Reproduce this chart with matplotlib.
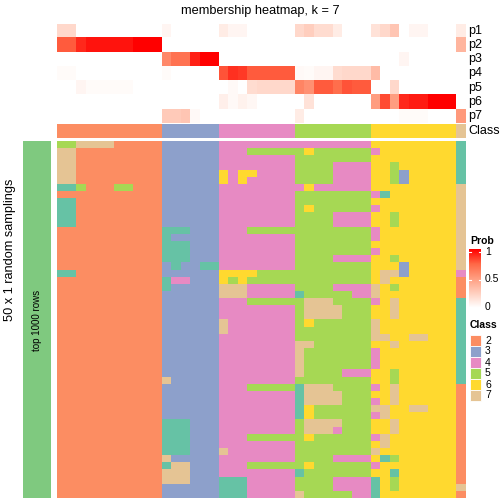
import numpy as np
import matplotlib

matplotlib.use("Agg")
import matplotlib.pyplot as plt  # noqa: E402
from matplotlib.colors import ListedColormap, LinearSegmentedColormap  # noqa: E402
from matplotlib.patches import Rectangle  # noqa: E402

plt.rcParams["font.family"] = ["Liberation Sans", "DejaVu Sans"]

W = H = 504

# class of each column (sample), left to right
column_class = "2222222222233333344444444555555556666666667"

# membership probabilities per column
p1 = [0.2, 0.2, 0, 0, 0, 0, 0, 0, 0, 0, 0, 0.05, 0, 0, 0, 0, 0, 0.1, 0.05, 0.05, 0, 0, 0, 0, 0,
      0.2, 0.25, 0.18, 0.18, 0.1, 0, 0, 0, 0.15, 0.2, 0.3, 0, 0.05, 0.05, 0, 0, 0, 0.1]
p2 = [0.78, 0.78, 0.9, 0.95, 0.95, 0.95, 0.95, 0.95, 1, 1, 1, 0, 0, 0, 0, 0, 0, 0, 0, 0, 0, 0, 0, 0, 0,
      0, 0, 0, 0, 0, 0, 0, 0, 0, 0, 0, 0, 0, 0, 0, 0, 0, 0.38]
p3 = [0, 0, 0, 0, 0, 0, 0, 0, 0, 0, 0, 0.6, 0.7, 0.7, 0.92, 1, 1, 0, 0, 0, 0, 0, 0, 0, 0,
      0, 0, 0, 0, 0, 0, 0, 0, 0, 0, 0, 0.05, 0, 0, 0, 0, 0, 0]
p4 = [0.02, 0.02, 0, 0, 0, 0, 0, 0, 0, 0, 0, 0.02, 0, 0, 0, 0, 0, 0.8, 0.88, 0.86, 0.78, 0.78, 0.78, 0.78, 0.78,
      0.03, 0.02, 0.05, 0.05, 0.18, 0.2, 0.2, 0.2, 0.35, 0, 0, 0, 0, 0, 0, 0, 0, 0]
p5 = [0, 0, 0.05, 0.02, 0.02, 0.02, 0.02, 0.02, 0, 0, 0, 0, 0, 0, 0, 0, 0, 0, 0.03, 0, 0.18, 0.2, 0.2, 0.2, 0.2,
      0.62, 0.56, 0.78, 0.78, 0.72, 0.8, 0.78, 0.78, 0, 0, 0.2, 0, 0, 0, 0, 0, 0, 0]
p6 = [0, 0, 0, 0, 0, 0, 0, 0, 0, 0, 0, 0, 0, 0, 0, 0, 0, 0.08, 0.03, 0.07, 0.04, 0, 0, 0, 0,
      0, 0.15, 0, 0, 0, 0, 0, 0, 0.5, 0.82, 0.5, 0.9, 0.93, 0.93, 1, 1, 1, 0]
p7 = [0, 0, 0, 0, 0, 0, 0, 0, 0, 0, 0, 0.27, 0.27, 0.3, 0.03, 0, 0, 0, 0, 0, 0, 0, 0, 0, 0,
      0.1, 0, 0, 0, 0, 0, 0, 0, 0, 0, 0, 0.02, 0.02, 0.02, 0, 0, 0, 0.52]
prob_labels = ["p1", "p2", "p3", "p4", "p5", "p6", "p7"]

# class found in each of the 50 random samplings (rows) for each sample (columns)
samplings = [
    "55777722222" "333333" "44444444" "44444444" "666666666" "1",
    "77222222222" "333333" "44455555" "56555555" "466666666" "1",
    "77222222222" "333333" "44444444" "55555555" "666666666" "1",
    "77222222222" "333333" "44444444" "55554444" "665666666" "1",
    "77222222222" "333333" "64664444" "55554444" "665366666" "1",
    "77222222222" "333333" "64644444" "55554444" "665366666" "1",
    "11522255222" "333333" "44444444" "46444444" "666666666" "7",
    "22222222222" "333333" "44444444" "55555555" "416666666" "7",
    "11222222222" "333333" "44444444" "55555555" "666666666" "7",
    "11222222222" "333333" "44444444" "56555555" "466666666" "7",
    "11222222222" "333333" "44444444" "55554444" "665666666" "7",
    "11222222222" "333333" "44444444" "55554444" "665666666" "7",
    "22222222222" "111333" "44455555" "55555555" "466666666" "7",
    "22222222222" "133333" "44444444" "55555555" "466666666" "7",
    "22222222222" "111333" "44444444" "55555555" "666666666" "7",
    "22222222222" "111333" "44444444" "55555555" "466666666" "7",
    "22222222222" "111333" "44444444" "55554444" "665666666" "7",
    "22222222222" "313311" "44444444" "55555555" "666366666" "7",
    "11222222222" "333333" "66665555" "55555555" "677366666" "4",
    "22222222222" "144333" "65655555" "55555555" "676666666" "2",
    "22222222222" "133333" "77744444" "55554444" "765666666" "2",
    "22222222222" "333333" "77744444" "15555544" "766666666" "2",
    "22222222222" "333333" "44455555" "57775555" "467666666" "1",
    "22222222222" "333333" "44444444" "57777555" "667666666" "1",
    "22222222222" "333333" "44444444" "57777555" "667666666" "1",
    "22222222222" "333333" "74444444" "56555555" "766666666" "1",
    "22222222222" "333333" "74444444" "55555555" "766666666" "1",
    "22222222222" "333333" "44444444" "55555555" "776677666" "1",
    "22222222222" "333333" "44444444" "77555555" "667666666" "1",
    "22222222222" "333333" "44444444" "75555555" "466666666" "1",
    "22222222222" "333333" "44444444" "75555555" "466666666" "1",
    "22222222222" "333333" "44444444" "75555555" "466666666" "1",
    "22222222222" "333333" "44444444" "75555444" "665666666" "1",
    "22222222222" "733333" "44444444" "55555555" "665666666" "1",
    "22222222222" "333333" "44455555" "17775555" "467666666" "2",
    "22222222222" "333333" "44444444" "17777555" "667666666" "2",
    "22222222222" "333333" "44444444" "17777555" "467666666" "2",
    "22222222222" "333333" "44444444" "16555555" "776677666" "2",
    "22222222222" "333333" "44444444" "16555555" "476666666" "2",
    "22222222222" "111333" "44444444" "57777555" "667666666" "2",
    "22222222222" "111333" "44444444" "57774555" "667666666" "2",
    "22222222222" "111333" "44455555" "56555555" "476666666" "2",
    "22222222222" "111333" "44444444" "55555555" "676666666" "2",
    "22222222222" "111333" "74444444" "55555555" "766666666" "2",
    "22222222222" "733333" "44444444" "55554444" "615666666" "2",
    "22222222222" "177333" "44455555" "56555555" "466666666" "2",
    "22222222222" "777333" "44444444" "15555555" "661666666" "2",
    "22222222222" "777333" "11144444" "55554444" "165666666" "2",
    "22222222222" "333333" "11144444" "55554444" "165666666" "7",
    "22222222222" "333333" "11144444" "75555544" "166666666" "2",
]
legend_classes = ["2", "3", "4", "5", "6", "7"]

class_colors = ["#66C2A5", "#FC8D62", "#8DA0CB", "#E78AC3", "#A6D854", "#FFD92F", "#E5C494"]
class_cmap = ListedColormap(class_colors)
prob_cmap = LinearSegmentedColormap.from_list(
    "wr", [(0, "#FFFFFF"), (0.25, "#FFCFBF"), (0.5, "#FF9E81"), (0.75, "#FF6846"), (1, "#FF0000")])

fig = plt.figure(figsize=(W / 100, H / 100), dpi=100)


def px_axes(x0, y0, x1, y1):
    ax = fig.add_axes([x0 / W, 1 - y1 / H, (x1 - x0) / W, (y1 - y0) / H])
    ax.set_axis_off()
    return ax


X0, X1 = 56.7, 465.2

# top annotation: probabilities
prob = np.array([p1, p2, p3, p4, p5, p6, p7])
ax = px_axes(X0, 23.5, X1, 123.3)
ax.imshow(prob, cmap=prob_cmap, vmin=0, vmax=1, aspect="auto", interpolation="nearest")

# top annotation: class
cls = np.array([[int(c) for c in column_class]])
ax = px_axes(X0, 124, X1, 138)
ax.imshow(cls, cmap=class_cmap, vmin=0.5, vmax=7.5, aspect="auto", interpolation="nearest")

# main heatmap
mat = np.array([[int(c) for c in row] for row in samplings])
ax = px_axes(X0, 141, X1, 498)
ax.imshow(mat, cmap=class_cmap, vmin=0.5, vmax=7.5, aspect="auto", interpolation="nearest")

# row split bar
ax = px_axes(23, 141, 51, 498)
ax.add_patch(Rectangle((0, 0), 1, 1, color="#7FC97F", transform=ax.transAxes))

# colour bar legend
ax = px_axes(469, 249, 481, 308)
ax.imshow(np.linspace(1, 0, 100)[:, None], cmap=prob_cmap, vmin=0, vmax=1, aspect="auto")

# overlay in pixel coordinates for text and legend boxes
ov = fig.add_axes([0, 0, 1, 1])
ov.set_xlim(0, W)
ov.set_ylim(H, 0)
ov.set_axis_off()

ov.text(260, 11, "membership heatmap, k = 7", ha="center", va="center", fontsize=9.2)
for i, lab in enumerate(prob_labels):
    ov.text(468, 23.5 + 14.25 * (i + 0.5), lab, ha="left", va="center", fontsize=9)
ov.text(468, 131, "Class", ha="left", va="center", fontsize=9)

ov.text(10, 250, "50 x 1 random samplings", rotation=90, ha="center", va="center", fontsize=9.2)
ov.text(37, 320, "top 1000 rows", rotation=90, ha="center", va="center", fontsize=7)

ov.text(470, 241, "Prob", ha="left", va="center", fontsize=7.5, fontweight="bold")
for v, lab in [(1, "1"), (0.5, "0.5"), (0, "0")]:
    y = 252 + (1 - v) * 55
    ov.plot([469, 471], [y, y], color="white", lw=0.8)
    ov.plot([479, 481], [y, y], color="white", lw=0.8)
    ov.text(485, y, lab, ha="left", va="center", fontsize=7.5)

ov.text(470, 325, "Class", ha="left", va="center", fontsize=7.5, fontweight="bold")
for i, lab in enumerate(legend_classes):
    y = 335 + 11 * i
    ov.add_patch(Rectangle((470, y), 11, 11, facecolor=class_colors[int(lab) - 1],
                           edgecolor="white", lw=0.6))
    ov.text(485, y + 5.5, lab, ha="left", va="center", fontsize=7.5)

fig.savefig("out.png", dpi=100)
